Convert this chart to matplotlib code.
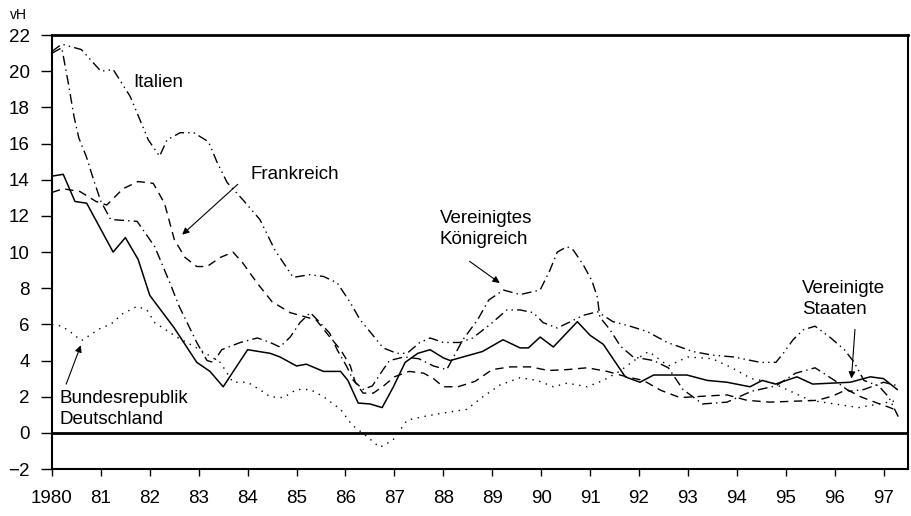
import matplotlib
matplotlib.use("Agg")
import matplotlib.pyplot as plt

plt.rcParams["font.family"] = ["Liberation Sans", "DejaVu Sans"]

# Vereinigte Staaten (solid)
us_x = [1980.0, 1980.23, 1980.47, 1980.71, 1981.25, 1981.5, 1981.76, 1982.0, 1982.5, 1982.96,
        1983.23, 1983.5, 1984.0, 1984.46, 1984.66, 1985.0, 1985.2, 1985.55, 1985.9, 1986.05,
        1986.26, 1986.5, 1986.75, 1986.98, 1987.22, 1987.48, 1987.73, 1988.0, 1988.14, 1988.8,
        1989.22, 1989.57, 1989.74, 1989.98, 1990.25, 1990.74, 1991.0, 1991.27, 1991.72, 1992.02,
        1992.3, 1992.98, 1993.4, 1993.8, 1994.27, 1994.52, 1994.79, 1995.23, 1995.55, 1996.32,
        1996.73, 1997.0, 1997.28]
us_y = [14.2, 14.3, 12.8, 12.7, 10.0, 10.8, 9.6, 7.6, 5.8, 3.9,
        3.4, 2.55, 4.6, 4.4, 4.2, 3.7, 3.8, 3.4, 3.4, 2.9,
        1.65, 1.6, 1.4, 2.55, 3.9, 4.4, 4.6, 4.15, 4.0, 4.5,
        5.15, 4.7, 4.7, 5.3, 4.75, 6.15, 5.4, 4.9, 3.1, 2.8,
        3.2, 3.2, 2.9, 2.8, 2.55, 2.9, 2.7, 3.1, 2.7, 2.8,
        3.1, 3.0, 2.4]

# Frankreich (dashed)
fr_x = [1980.0, 1980.23, 1980.57, 1980.9, 1981.12, 1981.45, 1981.76, 1982.07, 1982.3, 1982.5,
        1982.72, 1982.96, 1983.17, 1983.44, 1983.7, 1983.9, 1984.19, 1984.5, 1984.87, 1985.2,
        1985.4, 1985.68, 1985.9, 1986.1, 1986.2, 1986.36, 1986.57, 1986.78, 1987.0, 1987.3,
        1987.6, 1987.8, 1988.0, 1988.3, 1988.65, 1989.0, 1989.37, 1989.78, 1990.15, 1990.53,
        1990.94, 1991.35, 1991.75, 1992.09, 1992.45, 1992.84, 1993.45, 1993.8, 1994.21, 1994.68,
        1995.15, 1995.65, 1995.97, 1996.25, 1996.53, 1996.87, 1997.13, 1997.3]
fr_y = [13.3, 13.5, 13.35, 12.8, 12.6, 13.5, 13.9, 13.8, 12.7, 10.7,
        9.7, 9.2, 9.2, 9.7, 10.0, 9.4, 8.3, 7.25, 6.65, 6.4,
        6.25, 5.3, 4.6, 3.7, 2.8, 2.2, 2.2, 2.6, 3.1, 3.4,
        3.3, 3.0, 2.55, 2.55, 2.85, 3.5, 3.65, 3.65, 3.45, 3.5,
        3.6, 3.4, 3.1, 2.9, 2.35, 1.95, 2.05, 2.1, 1.8, 1.7,
        1.75, 1.8, 2.05, 2.4, 2.0, 1.65, 1.4, 1.2]

# Italien (dash-dot-dot)
it_x = [1980.0, 1980.2, 1980.6, 1981.0, 1981.25, 1981.6, 1981.97, 1982.2, 1982.35, 1982.62,
        1982.9, 1983.2, 1983.37, 1983.58, 1983.9, 1984.25, 1984.56, 1984.93, 1985.27, 1985.55,
        1985.83, 1986.1, 1986.3, 1986.5, 1986.77, 1987.05, 1987.26, 1987.52, 1987.73, 1988.0,
        1988.34, 1988.6, 1988.96, 1989.3, 1989.57, 1989.84, 1990.04, 1990.33, 1990.6, 1990.86,
        1991.15, 1991.47, 1991.82, 1992.17, 1992.58, 1993.1, 1993.5, 1993.93, 1994.48, 1994.8,
        1994.95, 1995.15, 1995.36, 1995.6, 1995.9, 1996.2, 1996.4, 1996.6, 1996.9, 1997.1, 1997.3]
it_y = [21.1, 21.5, 21.2, 20.0, 20.1, 18.6, 16.2, 15.3, 16.2, 16.6,
        16.6, 16.1, 15.0, 13.85, 12.9, 11.8, 10.1, 8.6, 8.75, 8.65,
        8.3, 7.2, 6.25, 5.6, 4.7, 4.4, 4.4, 5.0, 5.25, 5.0,
        5.0, 5.25, 6.0, 6.8, 6.8, 6.65, 6.1, 5.8, 6.15, 6.5,
        6.7, 6.15, 5.9, 5.6, 5.0, 4.5, 4.3, 4.2, 3.9, 3.9,
        4.4, 5.15, 5.7, 5.9, 5.3, 4.6, 3.9, 2.9, 2.6, 2.0, 0.9]

# Vereinigtes Koenigreich (dash-dot)
uk_x = [1980.0, 1980.2, 1980.33, 1980.45, 1980.55, 1980.7, 1980.85, 1981.0, 1981.2, 1981.74,
        1982.1, 1982.27, 1982.41, 1982.6, 1982.96, 1983.17, 1983.3, 1983.47, 1983.85, 1984.2,
        1984.46, 1984.66, 1984.87, 1985.07, 1985.28, 1985.48, 1985.68, 1985.83, 1986.03, 1986.16,
        1986.36, 1986.55, 1986.77, 1986.9, 1987.2, 1987.5, 1987.8, 1988.07, 1988.4, 1988.7,
        1988.93, 1989.23, 1989.57, 1989.98, 1990.18, 1990.33, 1990.53, 1990.66, 1990.86, 1991.04,
        1991.15, 1991.2, 1991.41, 1991.62, 1991.88, 1992.3, 1992.6, 1992.9, 1993.3, 1993.8,
        1994.3, 1994.8, 1995.2, 1995.6, 1996.0, 1996.3, 1996.6, 1997.0, 1997.3]
uk_y = [21.0, 21.3, 19.4, 17.5, 16.3, 15.3, 14.0, 12.8, 11.8, 11.7,
        10.3, 9.2, 8.3, 7.0, 5.0, 4.0, 3.9, 4.6, 5.0, 5.25,
        5.0, 4.75, 5.3, 6.1, 6.65, 6.1, 5.5, 4.6, 3.65, 2.9,
        2.4, 2.6, 3.5, 4.0, 4.2, 4.1, 3.7, 3.5, 5.15, 6.25,
        7.35, 7.9, 7.65, 7.9, 9.0, 10.0, 10.3, 10.1, 9.3, 8.4,
        7.5, 6.4, 5.7, 4.8, 4.2, 4.0, 3.6, 2.4, 1.6, 1.7,
        2.3, 2.6, 3.3, 3.6, 2.9, 2.3, 2.4, 2.8, 2.6]

# Bundesrepublik Deutschland (dotted)
de_x = [1980.0, 1980.2, 1980.37, 1980.6, 1981.0, 1981.2, 1981.45, 1981.74, 1981.94, 1982.1,
        1982.55, 1982.96, 1983.44, 1983.7, 1984.0, 1984.3, 1984.46, 1984.73, 1985.0, 1985.28,
        1985.55, 1985.9, 1986.13, 1986.44, 1986.7, 1986.97, 1987.26, 1987.59, 1988.0, 1988.48,
        1988.81, 1989.16, 1989.57, 1989.92, 1990.25, 1990.53, 1990.94, 1991.27, 1991.6, 1991.9,
        1992.2, 1992.6, 1993.0, 1993.5, 1993.9, 1994.3, 1994.7, 1995.1, 1995.5, 1996.0,
        1996.5, 1996.9, 1997.3]
de_y = [6.0, 5.9, 5.6, 5.1, 5.8, 6.0, 6.6, 7.0, 6.8, 6.1,
        5.3, 4.7, 3.9, 2.8, 2.8, 2.3, 2.0, 1.95, 2.4, 2.4,
        2.0, 1.3, 0.45, -0.2, -0.8, -0.4, 0.7, 0.9, 1.1, 1.3,
        2.0, 2.65, 3.05, 2.9, 2.55, 2.75, 2.55, 2.9, 3.4, 4.0,
        4.5, 3.7, 4.2, 4.1, 3.6, 3.0, 2.8, 2.3, 1.8, 1.6,
        1.4, 1.6, 1.8]

years = list(range(1980, 1998))
year_labels = ["1980"] + [str(y)[2:] for y in years[1:]]
y_ticks = list(range(-2, 23, 2))

fig = plt.figure(figsize=(9.12, 5.16), dpi=100)
ax = fig.add_axes([0.057, 0.091, 0.9386, 0.841])

lw = 1.0
ax.plot(us_x, us_y, color="black", lw=1.1, linestyle="-")
ax.plot(fr_x, fr_y, color="black", lw=lw, linestyle=(0, (6, 4)))
ax.plot(it_x, it_y, color="black", lw=lw, linestyle=(0, (7, 3, 1, 3, 1, 3)))
ax.plot(uk_x, uk_y, color="black", lw=lw, linestyle=(0, (7, 3, 1, 3)))
ax.plot(de_x, de_y, color="black", lw=lw, linestyle=(0, (1, 4)))

ax.axhline(0, color="black", lw=2)

ax.set_xlim(1980, 1997.5)
ax.set_ylim(-2, 22)
ax.set_xticks(years)
ax.set_xticklabels(year_labels)
ax.set_yticks(y_ticks)
ax.tick_params(axis="y", direction="out", length=8, width=1, pad=8, labelsize=13.5)
ax.tick_params(axis="x", direction="out", length=5, width=1, pad=10, labelsize=13.5)
for side in ["left", "bottom", "right"]:
    ax.spines[side].set_linewidth(1.5)
ax.spines["top"].set_linewidth(2)

fig.text(0.011, 0.97, "vH", fontsize=10, ha="left", va="center")

txt = dict(fontsize=13.5, ha="left", va="center", linespacing=1.3)
arrow = dict(arrowstyle="-|>", color="black", lw=0.8, mutation_scale=10)

ax.text(1981.66, 19.4, "Italien", **txt)

ax.text(1984.05, 14.3, "Frankreich", **txt)
ax.annotate("", xy=(1982.62, 10.86), xytext=(1983.84, 13.85), arrowprops=arrow)

ax.text(1987.93, 11.3, "Vereinigtes\nKönigreich", **txt)
ax.annotate("", xy=(1989.2, 8.2), xytext=(1988.49, 9.58), arrowprops=arrow)

ax.text(1995.34, 7.4, "Vereinigte\nStaaten", **txt)
ax.annotate("", xy=(1996.34, 2.85), xytext=(1996.42, 5.87), arrowprops=arrow)

ax.text(1980.16, 1.3, "Bundesrepublik\nDeutschland", **txt)
ax.annotate("", xy=(1980.61, 4.99), xytext=(1980.27, 2.55), arrowprops=arrow)

fig.savefig("out.png", dpi=100)
